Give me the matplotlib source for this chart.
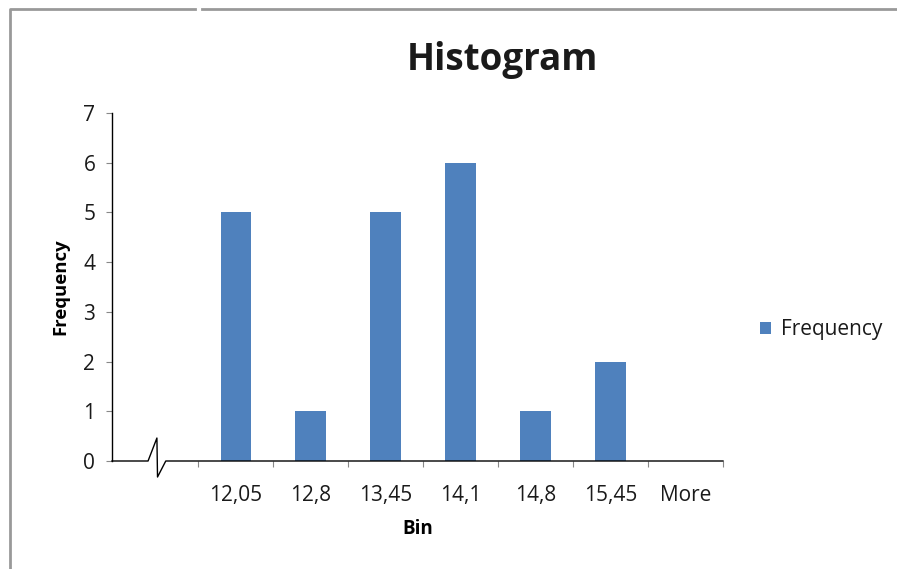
import matplotlib.pyplot as plt
from matplotlib.lines import Line2D

bins = ["12,05", "12,8", "13,45", "14,1", "14,8", "15,45", "More"]
frequency = [5, 1, 5, 6, 1, 2, 0]

plt.rcParams['font.family'] = ['Open Sans', 'DejaVu Sans']
plt.rcParams['text.color'] = '#1a1a1a'

fig = plt.figure(figsize=(8.97, 5.69), dpi=100)
ax = fig.add_axes([112 / 897, 1 - 461 / 569, (723 - 112) / 897, (461 - 113) / 569])

x = list(range(len(bins)))
ax.bar(x, frequency, width=0.41, color='#4F81BD', label='Frequency', zorder=3)

ax.set_xlim(-1.653, 6.5)
ax.set_ylim(0, 7)
ax.set_yticks(range(0, 8))
ax.tick_params(axis='y', length=4, width=0.8, color='#888888', labelsize=15, pad=8,
               labelcolor='#1a1a1a')
ax.set_xticks(x)
ax.set_xticklabels(bins)
ax.set_xticks([i + 0.5 for i in range(-1, len(bins))], minor=True)
ax.tick_params(axis='x', which='major', length=0, labelsize=15, pad=17, labelcolor='#1a1a1a')
ax.tick_params(axis='x', which='minor', length=4, width=0.8, color='#888888')

for s in ['top', 'right']:
    ax.spines[s].set_visible(False)
ax.spines['left'].set_linewidth(1.0)
ax.spines['bottom'].set_visible(False)

# bottom axis with a break mark near the left end
t = ax.transAxes
brk = [0.059, 0.0735, 0.0745, 0.088]
ax.add_line(Line2D([0, brk[0], brk[1], brk[2], brk[3], 1],
                   [0, 0, 0.066, -0.046, 0, 0],
                   transform=t, color='black', lw=1.0, clip_on=False, zorder=4))

ax.set_xlabel('Bin', fontsize=13.5, fontweight='bold', labelpad=10)
ax.set_ylabel('Frequency', fontsize=13.3, fontweight='bold', labelpad=10)
fig.text(502 / 897, 1 - 60 / 569, 'Histogram', ha='center', va='center',
         fontsize=26.5, fontweight='bold')

ax.legend(loc='center left', bbox_to_anchor=(760 / 897, 1 - 330 / 569),
          bbox_transform=fig.transFigure, borderaxespad=0, borderpad=0,
          frameon=False, fontsize=15, handlelength=0.55, handleheight=0.55,
          handletextpad=0.45)

# chart frame lines
fig.add_artist(Line2D([10 / 897, 10 / 897, 195 / 897], [0, 1 - 9 / 569, 1 - 9 / 569],
                      transform=fig.transFigure, color='#999999', lw=2))
fig.add_artist(Line2D([202 / 897, 1], [1 - 9 / 569, 1 - 9 / 569],
                      transform=fig.transFigure, color='#999999', lw=2))

fig.savefig('out.png', dpi=100)
